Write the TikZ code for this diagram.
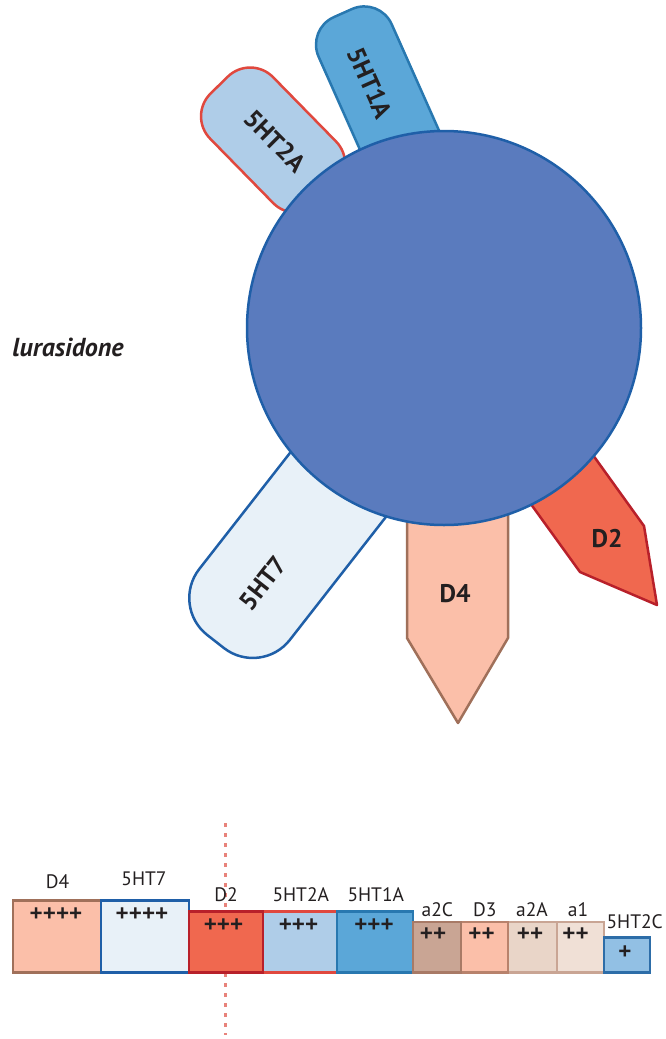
\documentclass[tikz,border=0pt]{standalone}
\usepackage{fontspec}
\setmainfont{PT Sans}
\newfontfamily\plusfont{Open Sans}
\definecolor{txt}{HTML}{231F20}
\definecolor{circfill}{HTML}{5A7BBE}
\definecolor{circline}{HTML}{1F5FA8}
\definecolor{dfourfill}{HTML}{FBBFA9}
\definecolor{dfourline}{HTML}{A0705A}
\definecolor{sevenfill}{HTML}{E8F1F8}
\definecolor{sevenline}{HTML}{1F5FA8}
\definecolor{dtwofill}{HTML}{F0684F}
\definecolor{dtwoline}{HTML}{B8202A}
\definecolor{twoafill}{HTML}{AFCDE8}
\definecolor{twoaline}{HTML}{E0483E}
\definecolor{oneafill}{HTML}{5BA7D8}
\definecolor{onealine}{HTML}{2878B0}
\definecolor{atwocfill}{HTML}{C9A594}
\definecolor{atwocline}{HTML}{A87A66}
\definecolor{dthreeline}{HTML}{B8826C}
\definecolor{atwoafill}{HTML}{E9D5C8}
\definecolor{aonefill}{HTML}{F0E0D6}
\definecolor{paleline}{HTML}{C9A594}
\definecolor{twocfill}{HTML}{92C0E4}
\definecolor{twocline}{HTML}{2D6DA8}
\definecolor{dashcol}{HTML}{E8837B}
\begin{document}
\begin{tikzpicture}[x=1pt,y=-1pt,
  shapelbl/.style={font=\fontsize{25.5}{28}\selectfont\bfseries, text=txt, inner sep=0pt},
  barlbl/.style={font=\fontsize{19.5}{21}\selectfont, text=txt, anchor=base, inner sep=0pt},
  pluslbl/.style={font=\plusfont\fontsize{23}{25}\selectfont\bfseries, text=txt, inner sep=0pt},
  receptor/.style={line width=2.5pt, line join=round},
  barbox/.style={line width=2.5pt}]
\useasboundingbox (0,0) rectangle (665,1039);
% 5HT2A pill
\begin{scope}[shift={(250,116.5)}, rotate=44.4]
  \draw[receptor, fill=twoafill, draw=twoaline, rounded corners=32] (-44,-44) rectangle (44,110);
\end{scope}
% 5HT1A pill
\begin{scope}[shift={(395,130)}, rotate=24]
  \draw[receptor, fill=oneafill, draw=onealine, rounded corners=30] (-40,-128) rectangle (40,60);
\end{scope}
% 5HT7 pill
\begin{scope}[shift={(337.5,485.5)}, rotate=-38]
  \draw[receptor, fill=sevenfill, draw=sevenline, rounded corners=47] (-57.5,-80) rectangle (57.5,198);
\end{scope}
% D4 arrow
\draw[receptor, fill=dfourfill, draw=dfourline] (407,480) -- (407,638) -- (458,723) -- (508,638) -- (508,480) -- cycle;
% D2 arrow
\draw[receptor, fill=dtwofill, draw=dtwoline] (520,489) -- (580,572) -- (657,605) -- (644,526) -- (580,437) -- cycle;
% central circle
\node[circle, draw=circline, fill=circfill, line width=2.5pt, minimum size=394pt, inner sep=0pt] (drug) at (444,328) {};
% receptor labels
\node[shapelbl, rotate=-45] (l2a) at (275,141) {5HT2A};
\node[shapelbl, rotate=-66] (l1a) at (370,83) {5HT1A};
\node[shapelbl, rotate=52] (l7) at (263,583) {5HT7};
\node[shapelbl] (ld4) at (455,594) {D4};
\node[shapelbl] (ld2) at (607,539) {D2};
\node[font=\fontsize{26}{30}\selectfont\bfseries\itshape, text=txt, inner sep=0pt] (name) at (68,347) {lurasidone};
% dashed threshold line
\draw[dashcol, line width=3pt, dash pattern=on 4pt off 6pt] (225,823) -- (225,1035);
% bar chart
\draw[barbox, fill=dfourfill, draw=dfourline] (13,900.7) rectangle (101,972.7);
\draw[barbox, fill=sevenfill, draw=sevenline] (101,900.7) rectangle (189,972.7);
\draw[barbox, fill=twoafill, draw=twoaline] (263,911.7) rectangle (337,972.7);
\draw[barbox, fill=oneafill, draw=onealine] (337,911.7) rectangle (413,972.7);
\draw[barbox, fill=dtwofill, draw=dtwoline] (189,911.7) rectangle (263,972.7);
\draw[barbox, fill=aonefill, draw=paleline] (557,922) rectangle (604,972.7);
\draw[barbox, fill=atwoafill, draw=paleline] (508,922) rectangle (557,972.7);
\draw[barbox, fill=dfourfill, draw=dthreeline] (461,922) rectangle (508,972.7);
\draw[barbox, fill=atwocfill, draw=atwocline] (413,922) rectangle (461,972.7);
\draw[barbox, fill=twocfill, draw=twocline] (604,937.7) rectangle (650,972.7);
% bar labels
\node[barlbl] (bd4) at (57.5,888) {D4};
\node[barlbl] (b7) at (144,885) {5HT7};
\node[barlbl] (bd2) at (226,901.7) {D2};
\node[barlbl] (b2a) at (300.8,901.7) {5HT2A};
\node[barlbl] (b1a) at (375.8,901.7) {5HT1A};
\node[barlbl] (ba2c) at (437.3,916.7) {a2C};
\node[barlbl] (bd3) at (484.7,916.7) {D3};
\node[barlbl] (ba2a) at (532,916.7) {a2A};
\node[barlbl] (ba1) at (578,916.7) {a1};
\node[barlbl] (b2c) at (634.7,928.3) {5HT2C};
% affinity marks
\node[pluslbl] (pd4) at (56,914.5) {++++};
\node[pluslbl] (p7) at (142,914.5) {++++};
\node[pluslbl] (pd2) at (223.5,925.5) {+++};
\node[pluslbl] (p2a) at (298.5,925.5) {+++};
\node[pluslbl] (p1a) at (374,925.5) {+++};
\node[pluslbl] (pa2c) at (433,935) {++};
\node[pluslbl] (pd3) at (481.5,935) {++};
\node[pluslbl] (pa2a) at (530,935) {++};
\node[pluslbl] (pa1) at (575.5,935) {++};
\node[pluslbl] (p2c) at (625,952.5) {+};
\end{tikzpicture}
\end{document}
